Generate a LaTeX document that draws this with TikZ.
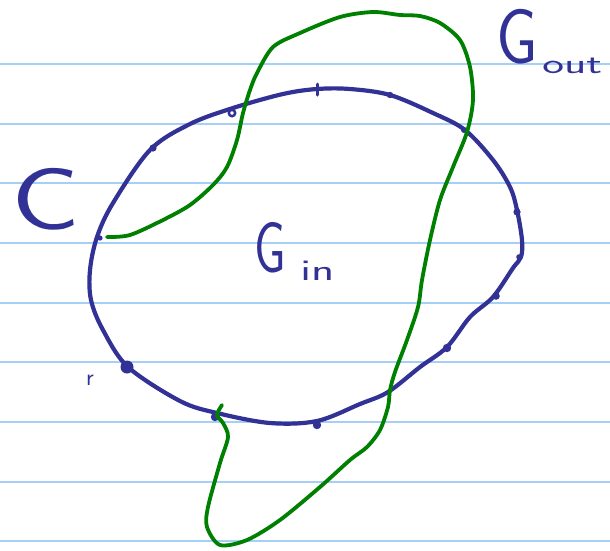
\documentclass[tikz,border=0pt]{standalone}
\usetikzlibrary{calc}
\definecolor{ink}{RGB}{50,50,150}
\definecolor{gink}{RGB}{0,128,0}
\definecolor{rule}{RGB}{166,207,245}
\tikzset{
  ruleline/.style={rule,line width=1.6pt},
  bluecurve/.style={ink,line width=4.2pt,line cap=round,line join=round},
  greencurve/.style={gink,line width=3.8pt,line cap=round,line join=round},
  tickdot/.style={ink,fill=ink,draw=none},
  label/.style={ink,font=\sffamily,inner sep=0pt}
}
\begin{document}
\begin{tikzpicture}[x=1pt,y=-1pt]
\useasboundingbox (0,0) rectangle (610,550);
\fill[white] (0,0) rectangle (610,550);
% paper lines
\foreach \yy in {64,124,183,243,303,362,422,482,541}
  \draw[ruleline] (0,\yy) -- (610,\yy);
% blue closed curve C
\draw[bluecurve] plot[smooth cycle,tension=0.55] coordinates {
 (317,89) (350,89) (390,95) (433,113) (465,130) (493,160) (510,187) (517,210)
 (522,240) (521,257) (513,268) (493,297) (470,317) (447,347) (420,367) (388,392)
 (360,404) (317,421) (270,423) (217,413) (180,401) (128,367) (103,330) (91,300)
 (90,270) (97,237) (113,203) (150,150) (190,124) (233,108) (283,94)};
% marks on C
\fill[tickdot] (153,148) circle (3.6);
\draw[ink,line width=2.5pt] (232,113) circle (3.2);
\draw[ink,line width=3pt,line cap=round] (317,84) -- (317,95);
\fill[tickdot] (390,95) circle (3.2);
\fill[tickdot] (464,130) circle (3);
\fill[tickdot] (517,212) circle (3.6);
\fill[tickdot] (519,257) circle (2.8);
\fill[tickdot] (496,296) circle (3.8);
\fill[tickdot] (447,348) circle (4.2);
\fill[tickdot] (317,425) circle (4.2);
\fill[tickdot] (215,417) circle (4.2);
\fill[tickdot] (127,367) circle (6.5);
\fill[tickdot] (100,238) circle (2.6);
% green curve
\draw[greencurve] plot[smooth,tension=0.5] coordinates {
 (107,237) (130,235) (163,220) (190,205) (213,185) (227,167) (237,140) (243,113)
 (250,90) (257,73) (273,47) (300,33) (340,17) (373,12) (400,15) (420,16) (440,23)
 (460,40) (470,67) (473,100) (467,132) (453,167) (440,200) (430,240) (422,280)
 (418,307) (407,340) (395,372) (390,390) (388,407) (380,430) (367,447) (350,460)
 (320,487) (280,520) (247,540) (220,545) (207,527) (208,507) (220,463) (228,437)
 (223,423) (217,415) (222,405)};
% labels
\node[label,anchor=base west,xscale=1.3] (lc) at (11,229) {\fontsize{88}{88}\selectfont C};
\node[label,anchor=base west,xscale=0.7] (lgin) at (254,272) {\fontsize{72}{72}\selectfont G};
\node[label,anchor=base west,xscale=1.6] (lin) at (300,280) {\fontsize{30}{30}\selectfont in};
\node[label,anchor=base west,xscale=0.85] (lgout) at (496,63) {\fontsize{78}{78}\selectfont G};
\node[label,anchor=base west,xscale=1.65] (lout) at (542,73) {\fontsize{28}{28}\selectfont out};
\node[label,anchor=base west] (lr) at (86,385) {\fontsize{24}{24}\selectfont r};
\end{tikzpicture}
\end{document}
